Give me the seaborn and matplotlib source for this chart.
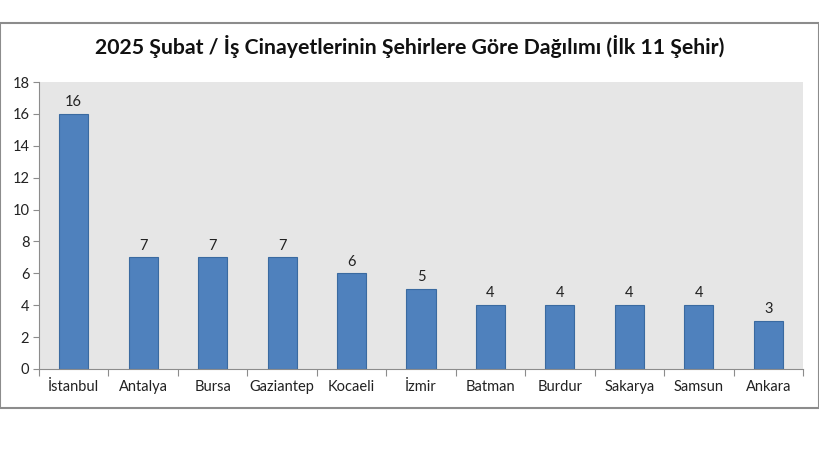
import matplotlib
matplotlib.use("Agg")
import matplotlib.pyplot as plt
import seaborn as sns
import pandas as pd
from matplotlib.patches import Rectangle

cities = ["İstanbul", "Antalya", "Bursa", "Gaziantep", "Kocaeli", "İzmir",
          "Batman", "Burdur", "Sakarya", "Samsun", "Ankara"]
counts = [16, 7, 7, 7, 6, 5, 4, 4, 4, 4, 3]
yticks = [0, 2, 4, 6, 8, 10, 12, 14, 16, 18]
title = "2025 Şubat / İş Cinayetlerinin Şehirlere Göre Dağılımı (İlk 11 Şehir)"

sns.set_theme(style="white")
plt.rcParams['font.family'] = ['Lato', 'DejaVu Sans']

df = pd.DataFrame({"city": cities, "count": counts})

fig = plt.figure(figsize=(8.2, 4.62), dpi=100)
fig.patch.set_facecolor("white")
fig.patches.append(Rectangle((0.0, 1 - 408/462), 819/820, (408-23)/462,
                             transform=fig.transFigure, fill=False,
                             edgecolor="#8c8c8c", linewidth=1.5, zorder=0))
ax = fig.add_axes([39/820, 1 - 369/462, (803-39)/820, (369-82)/462])
ax.set_facecolor("#e6e6e6")

sns.barplot(data=df, x="city", y="count", color="#4f81bd", width=0.42,
            edgecolor="#3a6aa0", linewidth=0.8, saturation=1, ax=ax)

for i, v in enumerate(counts):
    ax.text(i, v + 0.3, str(v), ha="center", va="bottom", fontsize=10.5, color="#222222")

ax.set_ylim(0, 18)
ax.set_yticks(yticks)
ax.set_xlim(-0.5, len(cities) - 0.5)
ax.set_xlabel("")
ax.set_ylabel("")
ax.tick_params(axis="y", labelsize=10.5, colors="#222222", length=4, width=0.8,
               direction="out", left=True, pad=3, color="#8c8c8c")
ax.tick_params(axis="x", labelsize=10.5, colors="#222222", length=0, pad=8)
for lab in ax.get_xticklabels() + ax.get_yticklabels():
    lab.set_color("#222222")
# category boundary ticks
ax.set_xticks([i - 0.5 for i in range(len(cities) + 1)], minor=True)
ax.tick_params(axis="x", which="minor", length=5, width=0.8, color="#8c8c8c",
               direction="out", bottom=True)

for s in ["top", "right"]:
    ax.spines[s].set_visible(False)
for s in ["left", "bottom"]:
    ax.spines[s].set_color("#8c8c8c")
    ax.spines[s].set_linewidth(0.8)

fig.text(410/820, 1 - 47/462, title, ha="center", va="center",
         fontsize=15.3, fontweight="bold", color="#111111")

fig.savefig("out.png", dpi=100, facecolor="white")
